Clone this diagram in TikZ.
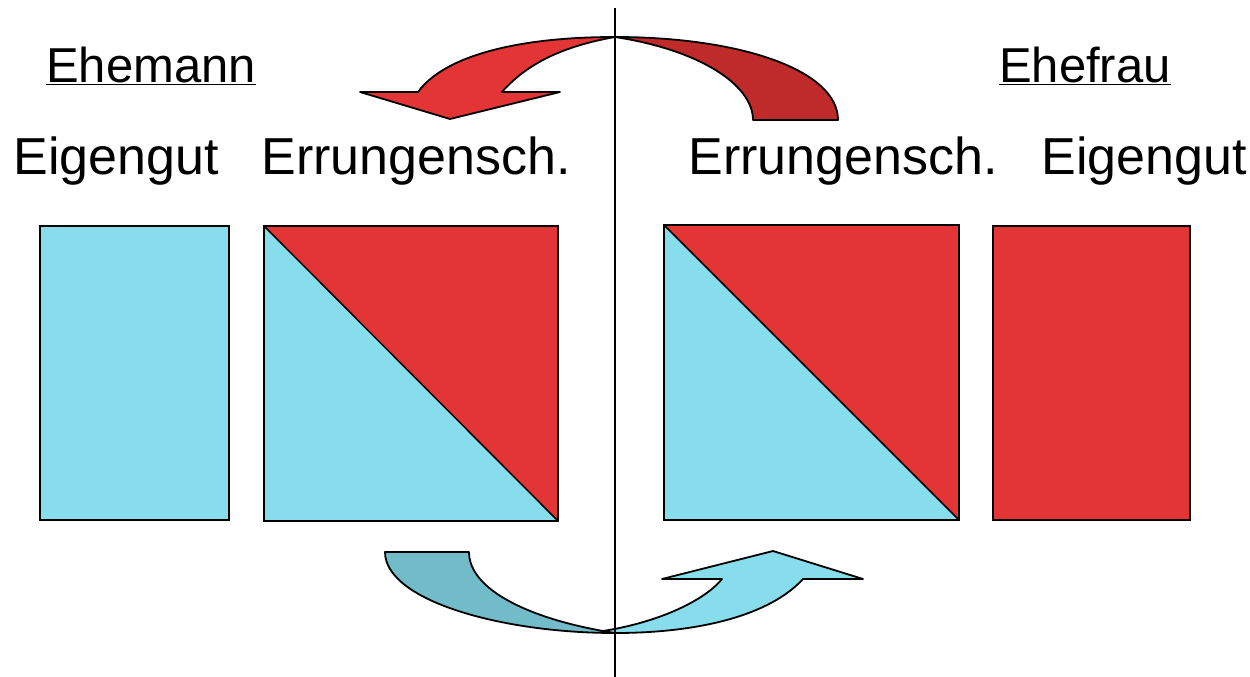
\documentclass[tikz,border=0pt]{standalone}
\usepackage{fontspec}
\setmainfont{Liberation Sans}
\usepackage{xcolor}
\definecolor{sky}{HTML}{88DDEC}
\definecolor{skydark}{HTML}{72BBC9}
\definecolor{tomato}{HTML}{E33535}
\definecolor{tomatodark}{HTML}{BF2A2A}

\begin{document}
\begin{tikzpicture}[x=1pt, y=-1pt,
      box/.style={draw=black, line width=1.5pt},
      curvearrow/.style={draw=black, line width=1.8pt, line join=round},
      lbl/.style={font=\fontsize{52}{62}\selectfont, anchor=base, inner sep=0pt},
      head/.style={lbl, font=\fontsize{49}{60}\selectfont}
    ]
      \useasboundingbox (0,0) rectangle (1250,677);

      % header texts
      \node[head] (mann) at (151,82) {\underline{Ehemann}};
      \node[head] (frau) at (1085,82) {\underline{Ehefrau}};
      \node[lbl] (eigenL) at (116,174) {Eigengut};
      \node[lbl] (errL) at (416,174) {Errungensch.};
      \node[lbl] (errR) at (843,174) {Errungensch.};
      \node[lbl] (eigenR) at (1144,174) {Eigengut};

      % boxes
      \draw[box, fill=sky] (40,226) rectangle (229,520);
      \fill[sky] (264,226) -- (558,521) -- (264,521) -- cycle;
      \fill[tomato] (264,226) -- (558,226) -- (558,521) -- cycle;
      \draw[box] (264,226) rectangle (558,521);
      \draw[box] (264,226) -- (558,521);
      \fill[sky] (664,225) -- (959,520) -- (664,520) -- cycle;
      \fill[tomato] (664,225) -- (959,225) -- (959,520) -- cycle;
      \draw[box] (664,225) rectangle (959,520);
      \draw[box] (664,225) -- (959,520);
      \draw[box, fill=tomato] (993,226) rectangle (1190,520);

      % top arrow
      \draw[curvearrow, fill=tomatodark] (615,37) .. controls (740,37) and (838,70) .. (838,120)
        -- (753,120) .. controls (753,85) and (700,50) .. (615,37) -- cycle;
      \draw[curvearrow, fill=tomato] (615,37) .. controls (520,37) and (445,55) .. (418,92)
        -- (360,92) -- (450,119) -- (560,92) -- (502,92)
        .. controls (530,60) and (570,45) .. (615,37) -- cycle;

      % bottom arrow
      \draw[curvearrow, fill=skydark] (385,552) -- (469,552)
        .. controls (469,590) and (530,618) .. (603,631)
        -- (615,633) .. controls (500,633) and (385,600) .. (385,552) -- cycle;
      \draw[curvearrow, fill=sky] (603,631) .. controls (660,622) and (705,600) .. (722,579)
        -- (662,579) -- (773,551) -- (863,579) -- (803,579)
        .. controls (770,615) and (700,633) .. (615,633) -- cycle;

      % divider
      \coordinate (topend) at (615,8);
      \coordinate (botend) at (615,677);
      \draw[line width=1.8pt] (topend) -- (botend);
    \end{tikzpicture}
\end{document}
